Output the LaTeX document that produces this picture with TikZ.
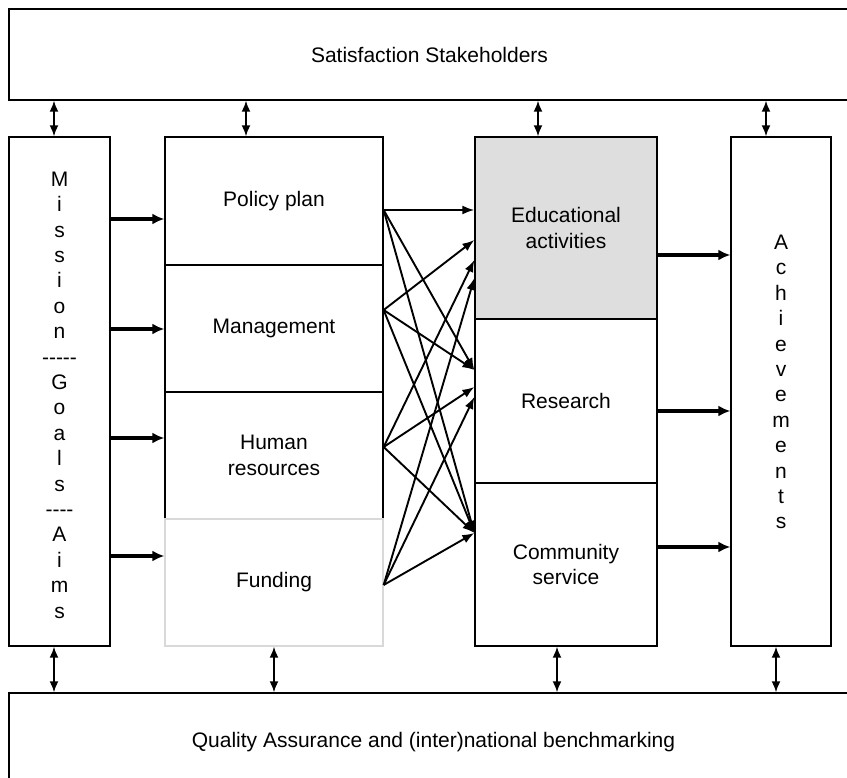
\documentclass[tikz,border=0pt]{standalone}
\usepackage{fontspec}
\setmainfont{Liberation Sans}
\usetikzlibrary{arrows.meta}

% a hyphen that is not merged into a dash
\newcommand{\hy}{-\kern0pt}

\tikzset{
  box/.style={draw, line width=1.3pt, inner sep=0pt, align=center,
    font=\fontsize{21}{25.3}\selectfont},
  vtext/.style={inner sep=0pt, align=center, font=\fontsize{21}{25.4}\selectfont},
  bigarrow/.style={line width=3.2pt, -{Latex[length=12pt,width=11pt]}},
  fanarrow/.style={line width=1.9pt, -{Latex[length=12pt,width=9pt]}},
  dblarrow/.style={line width=1.9pt, {Latex[length=11pt,width=9pt]}-{Latex[length=11pt,width=9pt]}}
}

\begin{document}
\begin{tikzpicture}[x=1pt, y=-1pt]
    \clip (0,0) rectangle (847,778);

    % Hàng trên và hàng dưới
    \node[box, minimum width=841pt, minimum height=91pt] (stake) at (429.5,54.5) {Satisfaction Stakeholders};
    \node[box, minimum width=849pt, minimum height=98pt] (quality) at (433.5,742) {Quality Assurance and (inter)national benchmarking};

    % Cột trái
    \node[box, minimum width=101pt, minimum height=509pt] (mission) at (59.5,391.5) {};
    \node[vtext] (missiontext) at (59.5,395) {M\\i\\s\\s\\i\\o\\n\\\hy\hy\hy\hy\hy\\G\\o\\a\\l\\s\\\hy\hy\hy\hy\\A\\i\\m\\s};

    % Cột giữa
    \node[box, minimum width=218pt, minimum height=128pt] (policy) at (274,201) {Policy plan};
    \node[box, minimum width=218pt, minimum height=127pt] (mgmt) at (274,328.5) {Management};
    \node[box, minimum width=218pt, minimum height=127pt] (human) at (274,455.5) {Human\\resources};
    \node[box, draw=black!15, fill=white, minimum width=218pt, minimum height=127pt] (funding) at (274,582.5) {Funding};

    % Cột hoạt động
    \node[box, fill=black!13, minimum width=182pt, minimum height=182pt] (educ) at (566,228) {Educational\\activities};
    \node[box, minimum width=182pt, minimum height=164pt] (research) at (566,401) {Research};
    \node[box, minimum width=182pt, minimum height=163pt] (community) at (566,564.5) {Community\\service};

    % Cột phải
    \node[box, minimum width=100pt, minimum height=509pt] (achieve) at (781,391.5) {};
    \node[vtext] (achievetext) at (781,382) {A\\c\\h\\i\\e\\v\\e\\m\\e\\n\\t\\s};

    % Mũi tên hai chiều lên trên
    \foreach \n/\dx in {mission/-5.5, policy/-28, educ/-28, achieve/-15}
      \draw[dblarrow] ([xshift=\dx pt]\n.north) -- ([xshift=\dx pt]\n.north |- stake.south);
    % Mũi tên hai chiều xuống dưới
    \foreach \n/\dx in {mission/-5.5, funding/0, community/-9, achieve/-5}
      \draw[dblarrow] ([xshift=\dx pt]\n.south) -- ([xshift=\dx pt]\n.south |- quality.north);

    % Mũi tên đậm từ cột trái
    \foreach \n/\dy in {policy/-18, mgmt/-0.5, human/17.5, funding/26.5}
      \draw[bigarrow] ([yshift=\dy pt]\n.west -| mission.east) -- ([yshift=\dy pt]\n.west);

    % Mũi tên đậm sang cột phải
    \foreach \n/\dy in {educ/-27, research/-10, community/17.5}
      \draw[bigarrow] ([yshift=\dy pt]\n.east) -- ([yshift=\dy pt]\n.east -| achieve.west);

    % Các mũi tên chéo
    \draw[fanarrow] ([yshift=-9pt]policy.east) -- ([yshift=18pt]educ.west);
    \draw[fanarrow] ([yshift=-9pt]policy.east) -- ([yshift=31pt]research.west);
    \draw[fanarrow] ([yshift=-9pt]policy.east) -- ([yshift=31.5pt]community.west);
    \draw[fanarrow] ([yshift=18.5pt]mgmt.east) -- ([yshift=-12pt]educ.west);
    \draw[fanarrow] ([yshift=18.5pt]mgmt.east) -- ([yshift=31pt]research.west);
    \draw[fanarrow] ([yshift=18.5pt]mgmt.east) -- ([yshift=31.5pt]community.west);
    \draw[fanarrow] ([yshift=8.5pt]human.east) -- ([yshift=-32pt]educ.west);
    \draw[fanarrow] ([yshift=8.5pt]human.east) -- ([yshift=14pt]research.west);
    \draw[fanarrow] ([yshift=8.5pt]human.east) -- ([yshift=31.5pt]community.west);
    \draw[fanarrow] ([yshift=-2.5pt]funding.east) -- ([yshift=-50pt]educ.west);
    \draw[fanarrow] ([yshift=-2.5pt]funding.east) -- ([yshift=4pt]research.west);
    \draw[fanarrow] ([yshift=-2.5pt]funding.east) -- ([yshift=31.5pt]community.west);
\end{tikzpicture}
\end{document}
